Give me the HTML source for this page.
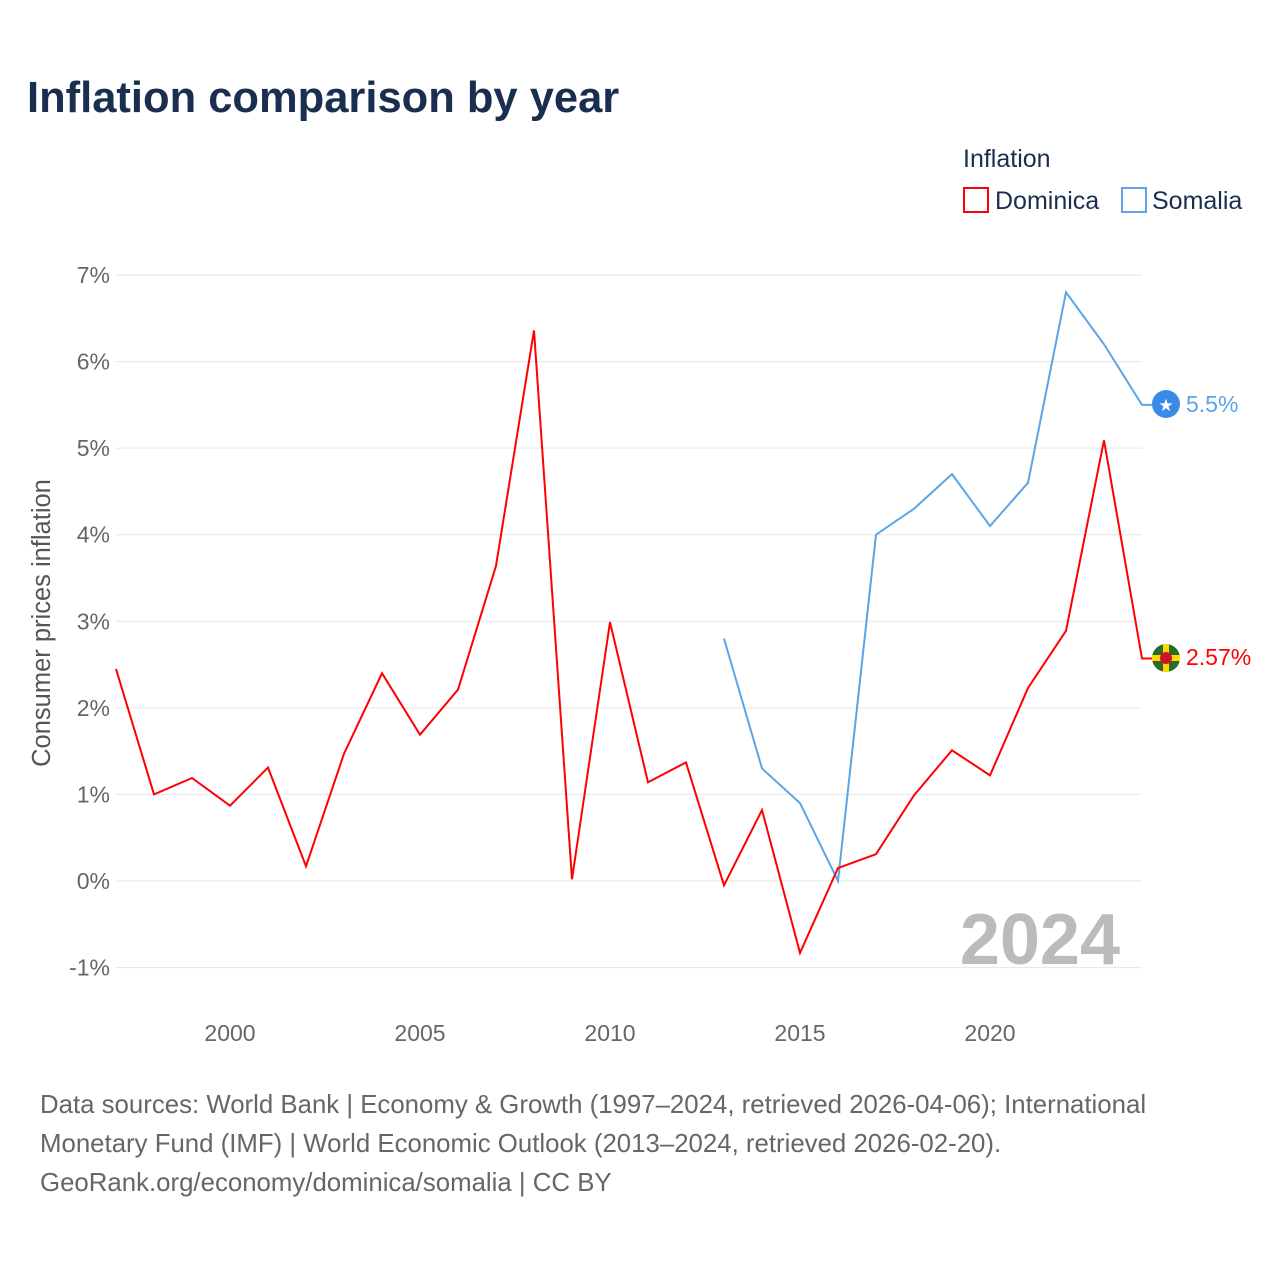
<!DOCTYPE html>
<html><head><meta charset="utf-8"><style>
body{margin:0;background:#fff;font-family:"Liberation Sans",sans-serif;}
svg text{font-family:"Liberation Sans",sans-serif;}
</style></head><body>
<svg width="1280" height="1280" xmlns="http://www.w3.org/2000/svg" id="chart">
<text x="27" y="112" font-size="43.5" font-weight="bold" fill="#1a2e4f">Inflation comparison by year</text>
<text x="963" y="167" font-size="25" fill="#1a2e4f">Inflation</text>
<g><rect x="964" y="188" width="24" height="24" fill="none" stroke="#f00" stroke-width="2"/><text x="995" y="209" font-size="25" fill="#1a2e4f">Dominica</text></g>
<g><rect x="1122" y="188" width="24" height="24" fill="none" stroke="#5ba4e8" stroke-width="2"/><text x="1152" y="209" font-size="25" fill="#1a2e4f">Somalia</text></g>
<text transform="translate(50,623) rotate(-90)" text-anchor="middle" font-size="25.5" fill="#555">Consumer prices inflation</text>
<g id="grid"></g><g id="xt"></g>
<text x="1120" y="964" text-anchor="end" font-size="72" font-weight="bold" fill="#bbb">2024</text>
<g id="lines"></g>
<g><circle cx="1166" cy="404" r="14" fill="#3b8ae8"/><text x="1166" y="411" text-anchor="middle" font-size="17" fill="#fff">★</text></g>
<text x="1186" y="412" font-size="23" fill="#5ba4e8">5.5%</text>
<g><circle cx="1166" cy="658" r="14" fill="#2a6a2a"/><rect x="1152" y="655" width="28" height="6" fill="#ffd700"/><rect x="1163" y="644" width="6" height="28" fill="#ffd700"/><circle cx="1166" cy="658" r="6" fill="#d0102c"/></g>
<text x="1186" y="665" font-size="23" fill="#f00">2.57%</text>
<text font-size="25.8" fill="#666"><tspan x="40" y="1113">Data sources: World Bank | Economy &amp; Growth (1997–2024, retrieved 2026-04-06); International</tspan><tspan x="40" y="1152">Monetary Fund (IMF) | World Economic Outlook (2013–2024, retrieved 2026-02-20).</tspan><tspan x="40" y="1191">GeoRank.org/economy/dominica/somalia | CC BY</tspan></text>
</svg>
<script>
const yTicks=[-1,0,1,2,3,4,5,6,7];
const xTicks=[2000,2005,2010,2015,2020];
const domYears=[1997,1998,1999,2000,2001,2002,2003,2004,2005,2006,2007,2008,2009,2010,2011,2012,2013,2014,2015,2016,2017,2018,2019,2020,2021,2022,2023,2024];
const domVals=[2.45,1.0,1.19,0.87,1.31,0.17,1.47,2.40,1.69,2.21,3.64,6.36,0.02,2.99,1.14,1.37,-0.05,0.82,-0.83,0.15,0.31,0.99,1.51,1.22,2.23,2.89,5.09,2.57];
const somYears=[2013,2014,2015,2016,2017,2018,2019,2020,2021,2022,2023,2024];
const somVals=[2.8,1.3,0.9,0.0,4.0,4.3,4.7,4.1,4.6,6.8,6.2,5.5];
const X=y=>116+(y-1997)*38, Y=v=>881-v*86.57;
const NS="http://www.w3.org/2000/svg";
const g=document.getElementById('grid'),xt=document.getElementById('xt'),L=document.getElementById('lines');
yTicks.forEach(t=>{const l=document.createElementNS(NS,'line');l.setAttribute('x1',116);l.setAttribute('x2',1142);l.setAttribute('y1',Y(t));l.setAttribute('y2',Y(t));l.setAttribute('stroke','#e6e6e6');


g.appendChild(l);
const tx=document.createElementNS(NS,'text');tx.setAttribute('x',110);tx.setAttribute('y',Y(t)+8);tx.setAttribute('text-anchor','end');tx.setAttribute('font-size','23');tx.setAttribute('fill','#666');tx.textContent=t+'%';


g.appendChild(tx);});
xTicks.forEach(t=>{const tx=document.createElementNS(NS,'text');tx.setAttribute('x',X(t));tx.setAttribute('y',1041);tx.setAttribute('text-anchor','middle');tx.setAttribute('font-size','23');tx.setAttribute('fill','#666');tx.textContent=t;


xt.appendChild(tx);});
function line(ys,vs,c,name){const p=document.createElementNS(NS,'path');let d=ys.map((y,i)=>(i?'L':'M')+X(y)+' '+Y(vs[i])).join(' ');d+=' L1166 '+Y(vs[vs.length-1]);
p.setAttribute('d',d);p.setAttribute('fill','none');p.setAttribute('stroke',c);p.setAttribute('stroke-width','2');


L.appendChild(p);}
line(somYears,somVals,'#5ba4e8','somalia-line');
line(domYears,domVals,'#f00','dominica-line');
</script>
</body></html>
